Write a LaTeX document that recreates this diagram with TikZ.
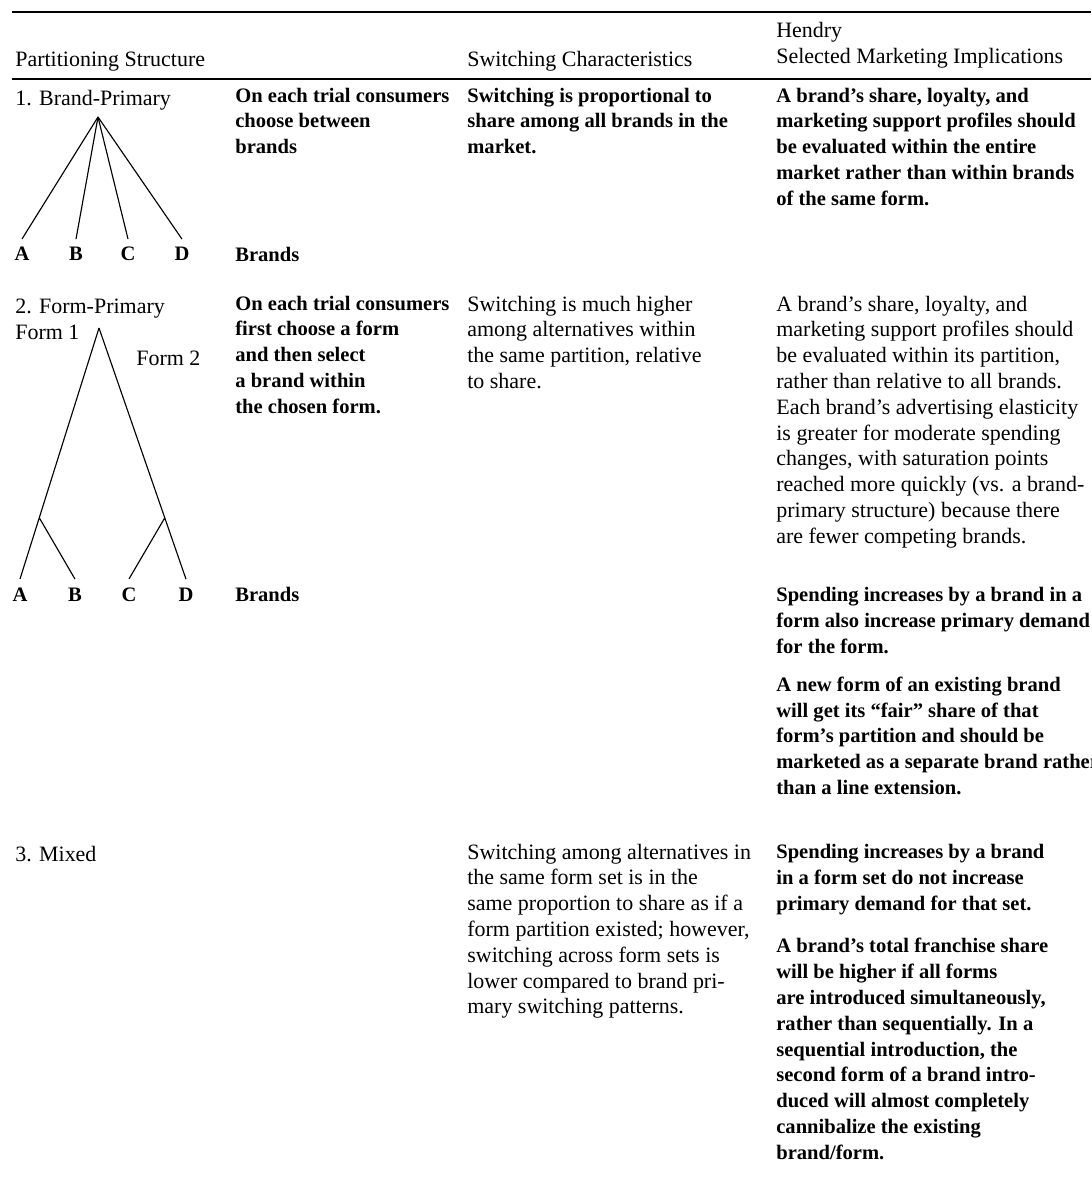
\documentclass[tikz,border=0pt]{standalone}
\usepackage{fontspec}
\setmainfont{Liberation Serif}
\usetikzlibrary{positioning, calc}
\newcommand\regtext{\fontsize{12.5}{14.7}\selectfont}
\newcommand\boldtext{\fontsize{11.7}{14.7}\selectfont\bfseries}
\begin{document}
\begin{tikzpicture}[x=0.02cm,y=-0.02cm,
  every node/.style={inner sep=0pt,anchor=north west,align=left},
  reg/.style={font=\regtext,execute at begin node=\strut,yshift=10.29pt},
  bld/.style={font=\boldtext,execute at begin node=\strut,yshift=10.29pt},
  leaf/.style={font=\boldtext,anchor=base,inner ysep=4.6pt},
  branch/.style={line width=0.65pt}]
  \useasboundingbox (0,0) rectangle (1091,1182);
  % rules
  \draw[line width=1.1pt] (12,12) -- (1091,12);
  \draw[line width=0.9pt] (12,79) -- (1091,79);
  % header
  \path (15,66) node[reg] (h1) {Partitioning Structure}
    (467,66) node[reg] (h3) {Switching Characteristics}
    (776,40) node[reg] (h4) {Hendry\\Selected Marketing Implications};
  % row 1
  \path (15,105.5) node[reg] (s1) {1. Brand-Primary}
    (235,105.5) node[bld] (c1) {On each trial consumers\\choose between\\brands}
    (467,105.5) node[bld] (w1) {Switching is proportional to\\share among all brands in the\\market.}
    (776,105.5) node[bld] (m1) {A brand’s share, loyalty, and\\marketing support profiles should\\be evaluated within the entire\\market rather than within brands\\of the same form.}
    (235,261) node[bld] (b1) {Brands};
  \coordinate (t1) at (98,117);
  \foreach \n/\x in {A/22,B/76,C/128,D/182}
    \node[leaf] (l1\n) at (\x,261) {\n};
  \foreach \n in {A,B,C,D}
    \draw[branch] (t1) -- (l1\n.north);
  % row 2
  \path (15,313.5) node[reg] (s2) {2. Form-Primary}
    (15,339.4) node[reg] (f1) {Form 1}
    (136,365.3) node[reg] (f2) {Form 2}
    (235,313.5) node[bld] (c2) {On each trial consumers\\first choose a form\\and then select\\a brand within\\the chosen form.}
    (467,313.5) node[reg] (w2) {Switching is much higher\\among alternatives within\\the same partition, relative\\to share.}
    (776,313.5) node[reg] (m2a) {A brand’s share, loyalty, and\\marketing support profiles should\\be evaluated within its partition,\\rather than relative to all brands.\\Each brand’s advertising elasticity\\is greater for moderate spending\\changes, with saturation points\\reached more quickly (vs. a brand-\\primary structure) because there\\are fewer competing brands.}
    (776,605) node[bld] (m2b) {Spending increases by a brand in a\\form also increase primary demand\\for the form.}
    (776,694.5) node[bld] (m2c) {A new form of an existing brand\\will get its “fair” share of that\\form’s partition and should be\\marketed as a separate brand rather\\than a line extension.}
    (235,601) node[bld] (b2) {Brands};
  \coordinate (t2) at (99,328);
  \foreach \n/\x in {A/20,B/75,C/129,D/186}
    \node[leaf] (l2\n) at (\x,601) {\n};
  \coordinate (k1) at ($(t2)!0.756!(l2A.north)$);
  \coordinate (k2) at ($(t2)!0.756!(l2D.north)$);
  \draw[branch] (t2) -- (l2A.north) (k1) -- (l2B.north);
  \draw[branch] (t2) -- (l2D.north) (k2) -- (l2C.north);
  % row 3
  \path (15,861.5) node[reg] (s3) {3. Mixed}
    (467,861.5) node[reg] (w3) {Switching among alternatives in\\the same form set is in the\\same proportion to share as if a\\form partition existed; however,\\switching across form sets is\\lower compared to brand pri-\\mary switching patterns.}
    (776,862) node[bld] (m3a) {Spending increases by a brand\\in a form set do not increase\\primary demand for that set.}
    (776,956) node[bld] (m3b) {A brand’s total franchise share\\will be higher if all forms\\are introduced simultaneously,\\rather than sequentially. In a\\sequential introduction, the\\second form of a brand intro-\\duced will almost completely\\cannibalize the existing\\brand/form.};
\end{tikzpicture}
\end{document}
